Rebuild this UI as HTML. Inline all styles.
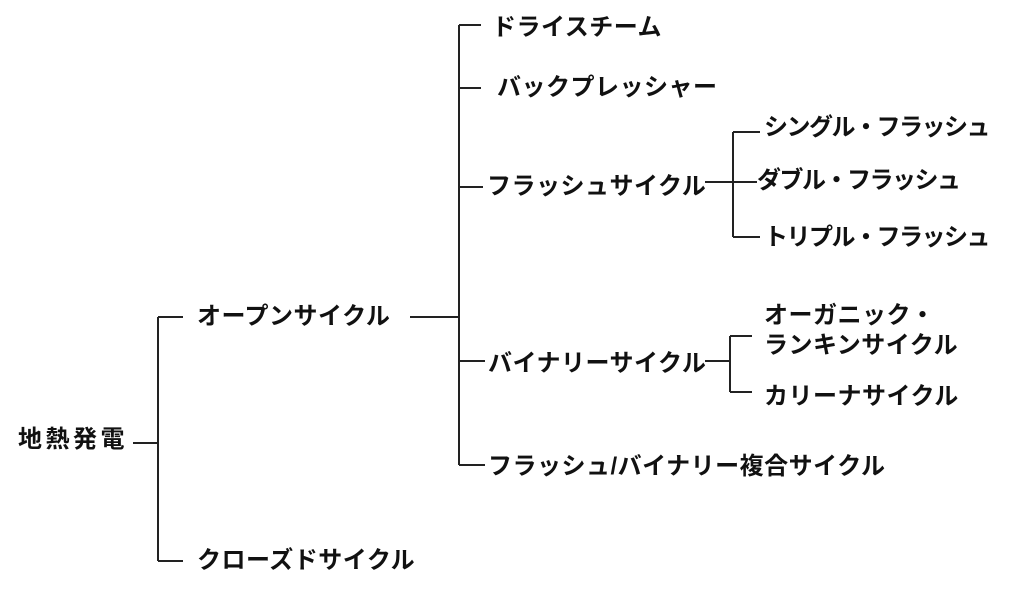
<!DOCTYPE html>
<html><head><meta charset="utf-8"><style>
html,body{margin:0;padding:0;background:#fff;}
.c{position:relative;width:1024px;height:592px;overflow:hidden;font-family:"Liberation Sans","Noto Sans CJK JP",sans-serif;font-weight:bold;font-size:24px;letter-spacing:0.5px;color:#111;}
.t{position:absolute;white-space:nowrap;line-height:1;}
.n{letter-spacing:-1.5px;}
svg{position:absolute;left:0;top:0;}
</style></head><body><div class="c">
<svg width="1024" height="592" stroke="#222" stroke-width="2" fill="none">
<path d="M133 443H158M158 317V561M158 317H183M158 561H183"/>
<path d="M410 317H459M459 25V465M459 25H481M459 88H481M459 187H483M459 361H485M459 465H485"/>
<path d="M705 182H733M733 132V237M733 132H760M733 182H757M733 237H760"/>
<path d="M705 361H730M730 336V392M730 336H752M730 392H752"/>
</svg>
<div class="t" style="left:18px;top:428px;letter-spacing:3.5px">地熱発電</div>
<div class="t" style="left:197px;top:305px">オープンサイクル</div>
<div class="t" style="left:197px;top:549px">クローズドサイクル</div>
<div class="t" style="left:492px;top:16px">ドライスチーム</div>
<div class="t" style="left:497px;top:76px">バックプレッシャー</div>
<div class="t" style="left:487px;top:175px">フラッシュサイクル</div>
<div class="t" style="left:488px;top:352px">バイナリーサイクル</div>
<div class="t" style="left:488px;top:455px">フラッシュ/バイナリー複合サイクル</div>
<div class="t n" style="left:764px;top:116px">シングル・フラッシュ</div>
<div class="t n" style="left:757px;top:169px">ダブル・フラッシュ</div>
<div class="t n" style="left:764px;top:226px">トリプル・フラッシュ</div>
<div class="t" style="left:764px;top:304px">オーガニック・</div>
<div class="t" style="left:764px;top:334px">ランキンサイクル</div>
<div class="t" style="left:764px;top:385px">カリーナサイクル</div>
</div></body></html>
